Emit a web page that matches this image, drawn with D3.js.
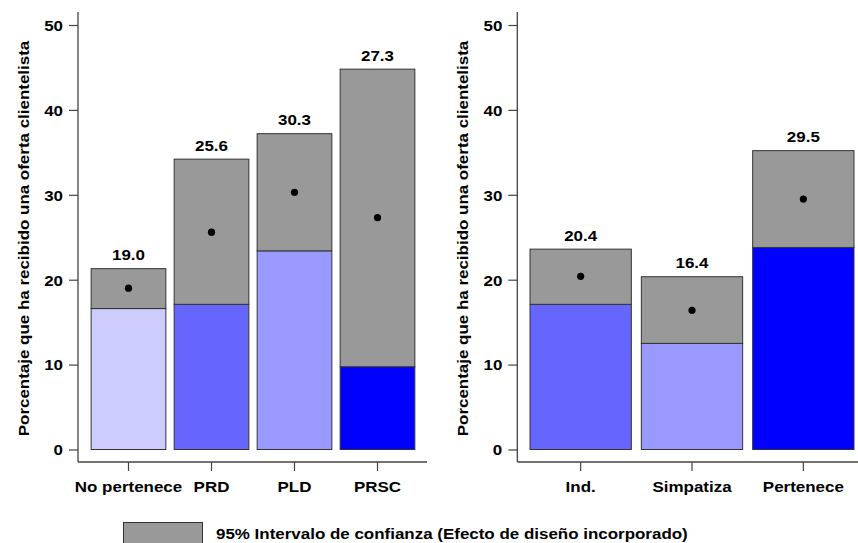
<!DOCTYPE html>
<html>
<head>
<meta charset="utf-8">
<script src="https://cdn.jsdelivr.net/npm/d3@7"></script>
<style>
  html, body { margin: 0; padding: 0; background: #fff; }
  svg { display: block; }
  text { font-family: "Liberation Sans", Arial, Helvetica, sans-serif; font-weight: bold; fill: #000; }
</style>
</head>
<body>
<svg id="chart" width="858" height="543"></svg>
<script>
// ---- Data ----
const leftCategories = ["No pertenece", "PRD", "PLD", "PRSC"];
const leftEstimate = [19.0, 25.6, 30.3, 27.3];
const leftLower = [16.6, 17.1, 23.4, 9.75];
const leftUpper = [21.3, 34.2, 37.2, 44.8];
const leftColors = ["#ccccff", "#6666ff", "#9999ff", "#0000ff"];

const rightCategories = ["Ind.", "Simpatiza", "Pertenece"];
const rightEstimate = [20.4, 16.4, 29.5];
const rightLower = [17.1, 12.5, 23.8];
const rightUpper = [23.6, 20.35, 35.2];
const rightColors = ["#6666ff", "#9999ff", "#0000ff"];

const yTicks = [0, 10, 20, 30, 40, 50];
const yLabel = "Porcentaje que ha recibido una oferta clientelista";
const legendLabel = "95% Intervalo de confianza (Efecto de diseño incorporado)";

// ---- Layout ----
const svg = d3.select("#chart");
const SX = 1.13; // horizontal stretch of glyphs
const y = d3.scaleLinear().domain([0, 50]).range([449.5, 25]);
const axisColor = "#444";
const greyFill = "#999999";
const barStroke = "#333";

function stretchText(sel, x, yy, anchor) {
  sel.attr("x", null).attr("y", null).attr("dy", null)
    .attr("text-anchor", anchor)
    .attr("transform", `translate(${x},${yy}) scale(${SX},1)`);
}

function panel(cfg) {
  const { cats, est, lo, hi, colors, axisX, range, pin, pout, xEnd } = cfg;
  const g = svg.append("g");
  const x = d3.scaleBand().domain(cats).range(range).paddingInner(pin).paddingOuter(pout);
  const data = cats.map((c, i) => ({ c, e: est[i], l: lo[i], u: hi[i], col: colors[i] }));

  // blue segment (0 -> lower CI)
  g.selectAll("rect.base").data(data).enter().append("rect")
    .attr("class", "base")
    .attr("x", d => x(d.c)).attr("width", x.bandwidth())
    .attr("y", d => y(d.l)).attr("height", d => y(0) - y(d.l))
    .attr("fill", d => d.col).attr("stroke", barStroke).attr("stroke-width", 1);

  // grey CI segment
  g.selectAll("rect.ci").data(data).enter().append("rect")
    .attr("class", "ci")
    .attr("x", d => x(d.c)).attr("width", x.bandwidth())
    .attr("y", d => y(d.u)).attr("height", d => y(d.l) - y(d.u))
    .attr("fill", greyFill).attr("stroke", barStroke).attr("stroke-width", 1);

  // estimate points
  g.selectAll("circle").data(data).enter().append("circle")
    .attr("cx", d => x(d.c) + x.bandwidth() / 2)
    .attr("cy", d => y(d.e)).attr("r", 3.6).attr("fill", "#000");

  // value labels
  g.selectAll("text.val").data(data).enter().append("text")
    .attr("class", "val").style("font-size", "15px")
    .text(d => d.e.toFixed(1))
    .each(function (d) { stretchText(d3.select(this), x(d.c) + x.bandwidth() / 2, y(d.u) - 8.5, "middle"); });

  // y axis
  const ya = g.append("g").attr("transform", `translate(${axisX},0)`)
    .call(d3.axisLeft(y).tickValues(yTicks).tickSize(9).tickSizeOuter(0));
  ya.select(".domain").remove();
  ya.selectAll(".tick line").attr("stroke", axisColor).attr("stroke-width", 1.2);
  ya.selectAll(".tick text").style("font-size", "15px")
    .each(function () { stretchText(d3.select(this), -15, 5.3, "end"); });
  g.append("line").attr("x1", axisX).attr("x2", axisX).attr("y1", 12).attr("y2", 462)
    .attr("stroke", axisColor).attr("stroke-width", 1.3);

  // x axis
  const xa = g.append("g").attr("transform", `translate(0,462)`)
    .call(d3.axisBottom(x).tickSize(9).tickSizeOuter(0));
  xa.select(".domain").remove();
  xa.selectAll(".tick line").attr("stroke", axisColor).attr("stroke-width", 1.2);
  xa.selectAll(".tick text").style("font-size", "15px")
    .each(function () { stretchText(d3.select(this), 0, 29.7, "middle"); });
  g.append("line").attr("x1", axisX).attr("x2", xEnd).attr("y1", 462).attr("y2", 462)
    .attr("stroke", axisColor).attr("stroke-width", 1.3);

  // y label
  g.append("text").style("font-size", "15px").attr("text-anchor", "middle")
    .attr("transform", `translate(${axisX - 49.5},238.5) rotate(-90) scale(${SX},1)`)
    .text(yLabel);
}

panel({ cats: leftCategories, est: leftEstimate, lo: leftLower, hi: leftUpper, colors: leftColors,
        axisX: 78, range: [87, 419], pin: 0.1, pout: 0.05, xEnd: 427 });
panel({ cats: rightCategories, est: rightEstimate, lo: rightLower, hi: rightUpper, colors: rightColors,
        axisX: 517.3, range: [525, 859], pin: 0.09, pout: 0.045, xEnd: 858 });

// legend
svg.append("rect").attr("x", 123.5).attr("y", 522.5).attr("width", 79).attr("height", 22)
  .attr("fill", greyFill).attr("stroke", barStroke).attr("stroke-width", 1);
svg.append("text").style("font-size", "15px").text(legendLabel)
  .each(function () { stretchText(d3.select(this), 216, 539, "start"); });
</script>
</body>
</html>
